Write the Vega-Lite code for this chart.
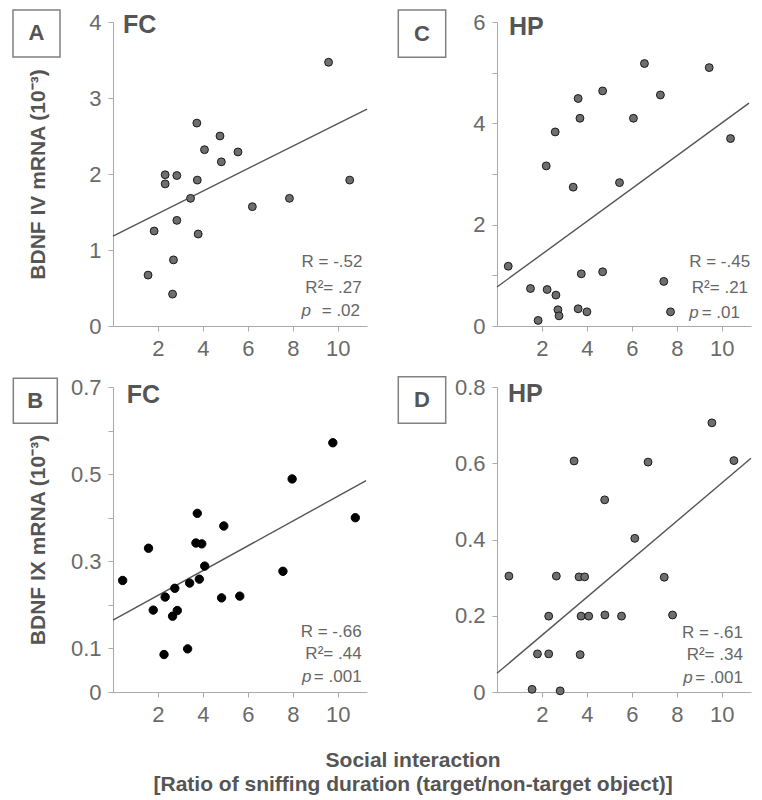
{
  "$schema": "https://vega.github.io/schema/vega-lite/v6.json",
  "padding": {"left": 12, "top": 9, "right": 2, "bottom": 2},
  "background": "white",
  "config": {
    "view": {"stroke": null},
    "font": "Liberation Sans, Arial, sans-serif",
    "axis": {
      "grid": false,
      "domainColor": "#aaaaaa",
      "tickColor": "#aaaaaa",
      "tickSize": 5,
      "labelFont": "Liberation Sans, Arial, sans-serif",
      "labelFontSize": 22,
      "labelColor": "#6a6a6a",
      "labelPadding": 7,
      "titleFont": "Liberation Sans, Arial, sans-serif",
      "titleFontSize": 21,
      "titleFontWeight": "bold",
      "titleColor": "#555555",
      "titleLimit": 500
    }
  },
  "datasets": {
    "A": [
      {"x": 1.56, "y": 0.67}, {"x": 1.83, "y": 1.25}, {"x": 2.32, "y": 1.99}, {"x": 2.32, "y": 1.87},
      {"x": 2.65, "y": 0.42}, {"x": 2.69, "y": 0.87}, {"x": 2.84, "y": 1.98}, {"x": 2.84, "y": 1.39},
      {"x": 3.45, "y": 1.68}, {"x": 3.73, "y": 2.67}, {"x": 3.75, "y": 1.92}, {"x": 3.79, "y": 1.21},
      {"x": 4.07, "y": 2.32}, {"x": 4.76, "y": 2.5}, {"x": 4.82, "y": 2.16}, {"x": 5.56, "y": 2.29},
      {"x": 6.2, "y": 1.57}, {"x": 7.85, "y": 1.68}, {"x": 9.59, "y": 3.47}, {"x": 10.53, "y": 1.92}
    ],
    "C": [
      {"x": 0.5, "y": 1.18}, {"x": 1.49, "y": 0.74}, {"x": 1.83, "y": 0.11}, {"x": 2.19, "y": 3.16},
      {"x": 2.23, "y": 0.72}, {"x": 2.59, "y": 3.83}, {"x": 2.62, "y": 0.61}, {"x": 2.71, "y": 0.32},
      {"x": 2.76, "y": 0.2}, {"x": 3.39, "y": 2.74}, {"x": 3.61, "y": 4.49}, {"x": 3.61, "y": 0.34},
      {"x": 3.69, "y": 4.1}, {"x": 3.75, "y": 1.03}, {"x": 4.0, "y": 0.28}, {"x": 4.7, "y": 4.64},
      {"x": 4.7, "y": 1.07}, {"x": 5.45, "y": 2.83}, {"x": 6.07, "y": 4.1}, {"x": 6.56, "y": 5.18},
      {"x": 7.27, "y": 4.56}, {"x": 7.42, "y": 0.88}, {"x": 7.72, "y": 0.28}, {"x": 9.44, "y": 5.1},
      {"x": 10.39, "y": 3.7}
    ],
    "B": [
      {"x": 0.43, "y": 0.256}, {"x": 1.58, "y": 0.33}, {"x": 1.79, "y": 0.188}, {"x": 2.27, "y": 0.086},
      {"x": 2.32, "y": 0.218}, {"x": 2.65, "y": 0.174}, {"x": 2.75, "y": 0.238}, {"x": 2.86, "y": 0.187},
      {"x": 3.32, "y": 0.099}, {"x": 3.41, "y": 0.25}, {"x": 3.69, "y": 0.342}, {"x": 3.75, "y": 0.41},
      {"x": 3.84, "y": 0.259}, {"x": 3.95, "y": 0.34}, {"x": 4.08, "y": 0.289}, {"x": 4.83, "y": 0.216},
      {"x": 4.93, "y": 0.381}, {"x": 5.64, "y": 0.22}, {"x": 7.56, "y": 0.277}, {"x": 7.97, "y": 0.489},
      {"x": 9.78, "y": 0.572}, {"x": 10.78, "y": 0.4}
    ],
    "D": [
      {"x": 0.53, "y": 0.304}, {"x": 1.56, "y": 0.007}, {"x": 1.8, "y": 0.1}, {"x": 2.3, "y": 0.199},
      {"x": 2.3, "y": 0.1}, {"x": 2.64, "y": 0.304}, {"x": 2.81, "y": 0.003}, {"x": 3.43, "y": 0.606},
      {"x": 3.65, "y": 0.302}, {"x": 3.7, "y": 0.098}, {"x": 3.74, "y": 0.199}, {"x": 3.9, "y": 0.302},
      {"x": 4.08, "y": 0.199}, {"x": 4.79, "y": 0.504}, {"x": 4.8, "y": 0.202}, {"x": 5.54, "y": 0.199},
      {"x": 6.13, "y": 0.403}, {"x": 6.72, "y": 0.603}, {"x": 7.44, "y": 0.301}, {"x": 7.81, "y": 0.202},
      {"x": 9.56, "y": 0.706}, {"x": 10.54, "y": 0.607}
    ],
    "fitA": [{"x": 0, "y": 1.184}, {"x": 11.3, "y": 2.855}],
    "fitC": [{"x": 0, "y": 0.77}, {"x": 11.21, "y": 4.4}],
    "fitB": [{"x": 0, "y": 0.165}, {"x": 11.26, "y": 0.485}],
    "fitD": [{"x": 0, "y": 0.049}, {"x": 11.3, "y": 0.613}],
    "info": [
      {"panel": "A", "region": "FC", "r": "R = -.52", "r2": "R²= .27", "p": "= .02"},
      {"panel": "C", "region": "HP", "r": "R = -.45", "r2": "R²= .21", "p": "= .01"},
      {"panel": "B", "region": "FC", "r": "R = -.66", "r2": "R²= .44", "p": "= .001"},
      {"panel": "D", "region": "HP", "r": "R = -.61", "r2": "R²= .34", "p": "= .001"}
    ]
  },
  "columns": 2,
  "bounds": "flush",
  "spacing": {"row": 61, "column": 130},
  "concat": [
    {
      "width": 254, "height": 304,
      "layer": [
        {"data": {"name": "fitA"}, "mark": {"type": "line", "color": "#555555", "strokeWidth": 1.4},
         "encoding": {
           "x": {"field": "x", "type": "quantitative", "scale": {"domain": [0, 11.3], "nice": false, "zero": false},
                 "axis": {"values": [2, 4, 6, 8, 10], "format": "d", "title": null}},
           "y": {"field": "y", "type": "quantitative", "scale": {"domain": [0, 4], "nice": false},
                 "axis": {"values": [0, 1, 2, 3, 4], "format": "d", "title": "BDNF IV mRNA (10⁻³)", "minExtent": 43, "maxExtent": 43, "titlePadding": 22}}
         }},
        {"data": {"name": "A"}, "mark": {"type": "circle", "size": 62, "fill": "#6e6e6e", "stroke": "#1a1a1a", "strokeWidth": 1, "opacity": 1},
         "encoding": {"x": {"field": "x", "type": "quantitative"}, "y": {"field": "y", "type": "quantitative"}}},
        {"data": {"name": "info"}, "transform": [{"filter": "datum.panel === 'A'"}],
         "layer": [
           {"mark": {"type": "rect", "fill": "white", "stroke": "#808080", "strokeWidth": 1.5},
            "encoding": {"x": {"datum": -4.449, "type": "quantitative"}, "x2": {"datum": -2.358}, "y": {"datum": 4.158, "type": "quantitative"}, "y2": {"datum": 3.539}}},
           {"mark": {"type": "text", "fontSize": 22, "fontWeight": "bold", "color": "#555555", "align": "center", "baseline": "middle"},
            "encoding": {"x": {"datum": -3.403, "type": "quantitative"}, "y": {"datum": 3.849, "type": "quantitative"}, "text": {"field": "panel"}}},
           {"mark": {"type": "text", "fontSize": 25, "fontWeight": "bold", "color": "#555555", "align": "left", "baseline": "alphabetic"},
            "encoding": {"x": {"datum": 0.445, "type": "quantitative"}, "y": {"datum": 3.855, "type": "quantitative"}, "text": {"field": "region"}}},
           {"mark": {"type": "text", "fontSize": 17, "color": "#666666", "align": "right", "baseline": "alphabetic"},
            "encoding": {"x": {"datum": 11.1, "type": "quantitative"}, "y": {"datum": 0.772, "type": "quantitative"}, "text": {"field": "r"}}},
           {"mark": {"type": "text", "fontSize": 17, "color": "#666666", "align": "right", "baseline": "alphabetic"},
            "encoding": {"x": {"datum": 11.06, "type": "quantitative"}, "y": {"datum": 0.43, "type": "quantitative"}, "text": {"field": "r2"}}},
           {"mark": {"type": "text", "fontSize": 17, "color": "#666666", "align": "right", "baseline": "alphabetic"},
            "encoding": {"x": {"datum": 10.99, "type": "quantitative"}, "y": {"datum": 0.132, "type": "quantitative"}, "text": {"field": "p"}}},
           {"mark": {"type": "text", "fontSize": 17, "color": "#666666", "align": "left", "baseline": "alphabetic", "fontStyle": "italic", "text": "p"},
            "encoding": {"x": {"datum": 8.39, "type": "quantitative"}, "y": {"datum": 0.132, "type": "quantitative"}}}
         ]}
      ]
    },
    {
      "width": 254, "height": 304,
      "layer": [
        {"data": {"name": "fitC"}, "mark": {"type": "line", "color": "#555555", "strokeWidth": 1.4},
         "encoding": {
           "x": {"field": "x", "type": "quantitative", "scale": {"domain": [0, 11.3], "nice": false, "zero": false},
                 "axis": {"values": [2, 4, 6, 8, 10], "format": "d", "title": null}},
           "y": {"field": "y", "type": "quantitative", "scale": {"domain": [0, 6], "nice": false},
                 "axis": {"values": [0, 1, 2, 3, 4, 5, 6], "format": "d", "labelExpr": "datum.value % 2 === 0 ? datum.label : ''", "title": null}}
         }},
        {"data": {"name": "C"}, "mark": {"type": "circle", "size": 62, "fill": "#6e6e6e", "stroke": "#1a1a1a", "strokeWidth": 1, "opacity": 1},
         "encoding": {"x": {"field": "x", "type": "quantitative"}, "y": {"field": "y", "type": "quantitative"}}},
        {"data": {"name": "info"}, "transform": [{"filter": "datum.panel === 'C'"}],
         "layer": [
           {"mark": {"type": "rect", "fill": "white", "stroke": "#808080", "strokeWidth": 1.5},
            "encoding": {"x": {"datum": -4.391, "type": "quantitative"}, "x2": {"datum": -2.282}, "y": {"datum": 6.237, "type": "quantitative"}, "y2": {"datum": 5.303}}},
           {"mark": {"type": "text", "fontSize": 22, "fontWeight": "bold", "color": "#555555", "align": "center", "baseline": "middle"},
            "encoding": {"x": {"datum": -3.337, "type": "quantitative"}, "y": {"datum": 5.77, "type": "quantitative"}, "text": {"field": "panel"}}},
           {"mark": {"type": "text", "fontSize": 25, "fontWeight": "bold", "color": "#555555", "align": "left", "baseline": "alphabetic"},
            "encoding": {"x": {"datum": 0.534, "type": "quantitative"}, "y": {"datum": 5.743, "type": "quantitative"}, "text": {"field": "region"}}},
           {"mark": {"type": "text", "fontSize": 17, "color": "#666666", "align": "right", "baseline": "alphabetic"},
            "encoding": {"x": {"datum": 11.26, "type": "quantitative"}, "y": {"datum": 1.17, "type": "quantitative"}, "text": {"field": "r"}}},
           {"mark": {"type": "text", "fontSize": 17, "color": "#666666", "align": "right", "baseline": "alphabetic"},
            "encoding": {"x": {"datum": 11.17, "type": "quantitative"}, "y": {"datum": 0.645, "type": "quantitative"}, "text": {"field": "r2"}}},
           {"mark": {"type": "text", "fontSize": 17, "color": "#666666", "align": "right", "baseline": "alphabetic"},
            "encoding": {"x": {"datum": 10.81, "type": "quantitative"}, "y": {"datum": 0.152, "type": "quantitative"}, "text": {"field": "p"}}},
           {"mark": {"type": "text", "fontSize": 17, "color": "#666666", "align": "left", "baseline": "alphabetic", "fontStyle": "italic", "text": "p"},
            "encoding": {"x": {"datum": 8.555, "type": "quantitative"}, "y": {"datum": 0.152, "type": "quantitative"}}}
         ]}
      ]
    },
    {
      "width": 254, "height": 305,
      "layer": [
        {"data": {"name": "fitB"}, "mark": {"type": "line", "color": "#555555", "strokeWidth": 1.4},
         "encoding": {
           "x": {"field": "x", "type": "quantitative", "scale": {"domain": [0, 11.3], "nice": false, "zero": false},
                 "axis": {"values": [2, 4, 6, 8, 10], "format": "d", "title": null}},
           "y": {"field": "y", "type": "quantitative", "scale": {"domain": [0, 0.7], "nice": false},
                 "axis": {"values": [0, 0.1, 0.2, 0.3, 0.4, 0.5, 0.6, 0.7], "labelExpr": "datum.value === 0 ? '0' : (round(datum.value * 10) % 2 === 1 ? format(datum.value, '.1f') : '')",
                          "title": "BDNF IX mRNA (10⁻³)", "minExtent": 43, "maxExtent": 43, "titlePadding": 22}}
         }},
        {"data": {"name": "B"}, "mark": {"type": "circle", "size": 70, "fill": "#000000", "stroke": "#000000", "strokeWidth": 1, "opacity": 1},
         "encoding": {"x": {"field": "x", "type": "quantitative"}, "y": {"field": "y", "type": "quantitative"}}},
        {"data": {"name": "info"}, "transform": [{"filter": "datum.panel === 'B'"}],
         "layer": [
           {"mark": {"type": "rect", "fill": "white", "stroke": "#808080", "strokeWidth": 1.5},
            "encoding": {"x": {"datum": -4.435, "type": "quantitative"}, "x2": {"datum": -2.478}, "y": {"datum": 0.72, "type": "quantitative"}, "y2": {"datum": 0.6167}}},
           {"mark": {"type": "text", "fontSize": 22, "fontWeight": "bold", "color": "#555555", "align": "center", "baseline": "middle"},
            "encoding": {"x": {"datum": -3.457, "type": "quantitative"}, "y": {"datum": 0.6683, "type": "quantitative"}, "text": {"field": "panel"}}},
           {"mark": {"type": "text", "fontSize": 25, "fontWeight": "bold", "color": "#555555", "align": "left", "baseline": "alphabetic"},
            "encoding": {"x": {"datum": 0.609, "type": "quantitative"}, "y": {"datum": 0.663, "type": "quantitative"}, "text": {"field": "region"}}},
           {"mark": {"type": "text", "fontSize": 17, "color": "#666666", "align": "right", "baseline": "alphabetic"},
            "encoding": {"x": {"datum": 11.06, "type": "quantitative"}, "y": {"datum": 0.127, "type": "quantitative"}, "text": {"field": "r"}}},
           {"mark": {"type": "text", "fontSize": 17, "color": "#666666", "align": "right", "baseline": "alphabetic"},
            "encoding": {"x": {"datum": 11.06, "type": "quantitative"}, "y": {"datum": 0.075, "type": "quantitative"}, "text": {"field": "r2"}}},
           {"mark": {"type": "text", "fontSize": 17, "color": "#666666", "align": "right", "baseline": "alphabetic"},
            "encoding": {"x": {"datum": 11.06, "type": "quantitative"}, "y": {"datum": 0.0236, "type": "quantitative"}, "text": {"field": "p"}}},
           {"mark": {"type": "text", "fontSize": 17, "color": "#666666", "align": "left", "baseline": "alphabetic", "fontStyle": "italic", "text": "p"},
            "encoding": {"x": {"datum": 8.41, "type": "quantitative"}, "y": {"datum": 0.0236, "type": "quantitative"}}},
           {"mark": {"type": "text", "fontSize": 21, "fontWeight": "bold", "color": "#555555", "align": "center", "baseline": "alphabetic", "text": "Social interaction"},
            "encoding": {"x": {"datum": 13.35, "type": "quantitative"}, "y": {"datum": -0.172, "type": "quantitative"}}},
           {"mark": {"type": "text", "fontSize": 21, "fontWeight": "bold", "color": "#555555", "align": "center", "baseline": "alphabetic", "text": "[Ratio of  sniffing duration (target/non-target object)]"},
            "encoding": {"x": {"datum": 13.35, "type": "quantitative"}, "y": {"datum": -0.227, "type": "quantitative"}}}
         ]}
      ]
    },
    {
      "width": 254, "height": 305,
      "layer": [
        {"data": {"name": "fitD"}, "mark": {"type": "line", "color": "#555555", "strokeWidth": 1.4},
         "encoding": {
           "x": {"field": "x", "type": "quantitative", "scale": {"domain": [0, 11.3], "nice": false, "zero": false},
                 "axis": {"values": [2, 4, 6, 8, 10], "format": "d", "title": null}},
           "y": {"field": "y", "type": "quantitative", "scale": {"domain": [0, 0.8], "nice": false},
                 "axis": {"values": [0, 0.2, 0.4, 0.6, 0.8], "labelExpr": "datum.value === 0 ? '0' : format(datum.value, '.1f')", "title": null}}
         }},
        {"data": {"name": "D"}, "mark": {"type": "circle", "size": 62, "fill": "#6e6e6e", "stroke": "#1a1a1a", "strokeWidth": 1, "opacity": 1},
         "encoding": {"x": {"field": "x", "type": "quantitative"}, "y": {"field": "y", "type": "quantitative"}}},
        {"data": {"name": "info"}, "transform": [{"filter": "datum.panel === 'D'"}],
         "layer": [
           {"mark": {"type": "rect", "fill": "white", "stroke": "#808080", "strokeWidth": 1.5},
            "encoding": {"x": {"datum": -4.391, "type": "quantitative"}, "x2": {"datum": -2.282}, "y": {"datum": 0.827, "type": "quantitative"}, "y2": {"datum": 0.7048}}},
           {"mark": {"type": "text", "fontSize": 22, "fontWeight": "bold", "color": "#555555", "align": "center", "baseline": "middle"},
            "encoding": {"x": {"datum": -3.337, "type": "quantitative"}, "y": {"datum": 0.7659, "type": "quantitative"}, "text": {"field": "panel"}}},
           {"mark": {"type": "text", "fontSize": 25, "fontWeight": "bold", "color": "#555555", "align": "left", "baseline": "alphabetic"},
            "encoding": {"x": {"datum": 0.489, "type": "quantitative"}, "y": {"datum": 0.7614, "type": "quantitative"}, "text": {"field": "region"}}},
           {"mark": {"type": "text", "fontSize": 17, "color": "#666666", "align": "right", "baseline": "alphabetic"},
            "encoding": {"x": {"datum": 10.94, "type": "quantitative"}, "y": {"datum": 0.1408, "type": "quantitative"}, "text": {"field": "r"}}},
           {"mark": {"type": "text", "fontSize": 17, "color": "#666666", "align": "right", "baseline": "alphabetic"},
            "encoding": {"x": {"datum": 10.94, "type": "quantitative"}, "y": {"datum": 0.0839, "type": "quantitative"}, "text": {"field": "r2"}}},
           {"mark": {"type": "text", "fontSize": 17, "color": "#666666", "align": "right", "baseline": "alphabetic"},
            "encoding": {"x": {"datum": 10.94, "type": "quantitative"}, "y": {"datum": 0.0244, "type": "quantitative"}, "text": {"field": "p"}}},
           {"mark": {"type": "text", "fontSize": 17, "color": "#666666", "align": "left", "baseline": "alphabetic", "fontStyle": "italic", "text": "p"},
            "encoding": {"x": {"datum": 8.288, "type": "quantitative"}, "y": {"datum": 0.0244, "type": "quantitative"}}}
         ]}
      ]
    }
  ]
}
